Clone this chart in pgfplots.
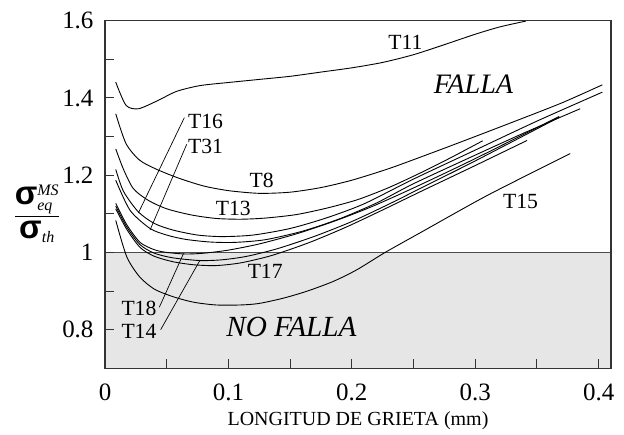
\documentclass[border=0pt]{standalone}
\usepackage{pgfplots}
\pgfplotsset{compat=1.18}
\usepackage{fontspec}
\setmainfont{Liberation Serif}
\newfontfamily\sgf{Liberation Sans}
\definecolor{shadegray}{HTML}{E6E6E6}
\definecolor{axc}{HTML}{333333}
\begin{document}
\begin{tikzpicture}[crv/.style={black, line width=0.9pt, smooth, tension=0.45, mark=none}]
\useasboundingbox (-105pt,-65.7pt) rectangle (519pt,368.3pt);
\begin{axis}[
  at={(0,0)}, anchor=south west,
  scale only axis, width=506pt, height=347.6pt,
  xmin=0, xmax=0.41, ymin=0.7, ymax=1.6,
  xtick={0,0.1,0.2,0.3,0.4},
  minor xtick={0.05,0.15,0.25,0.35},
  ytick={0.8,1,1.2,1.4,1.6},
  minor ytick={0.9,1.1,1.3,1.5},
  xtick pos=bottom, ytick pos=left,
  tick align=inside,
  major tick length=9pt, minor tick length=9pt,
  every tick/.style={axc, line width=1pt},
  axis line style={axc, line width=1.3pt},
  /pgf/number format/assume math mode=true,
  tick label style={font=\fontsize{18.5}{20}\selectfont, scale=1.35, transform shape},
  xticklabel style={yshift=-8pt},
  yticklabel style={xshift=-5pt},
  xlabel={LONGITUD DE GRIETA (mm)},
  xlabel style={font=\fontsize{18.5}{20}\selectfont, scale=1.08, transform shape, yshift=-2pt},
  axis on top=true,
  clip=true,
]
\fill[shadegray] (axis cs:0,0.7) rectangle (axis cs:0.41,1);
\addplot[draw=black!70, line width=1.6pt, mark=none] coordinates {(0,1) (0.41,1)};
% T11
\addplot[crv] coordinates {(0.0087,1.441)(0.017,1.381)(0.027,1.372)(0.042,1.392)(0.058,1.417)(0.077,1.432)(0.1,1.440)(0.125,1.448)(0.15,1.456)(0.175,1.467)(0.2,1.478)(0.225,1.492)(0.25,1.512)(0.275,1.538)(0.3,1.565)(0.32,1.584)(0.341,1.599)};
% T8
\addplot[crv] coordinates {(0.0087,1.359)(0.017,1.282)(0.028,1.239)(0.042,1.215)(0.06,1.192)(0.08,1.172)(0.1,1.16)(0.125,1.153)(0.15,1.156)(0.175,1.168)(0.2,1.187)(0.23,1.217)(0.26,1.252)(0.29,1.288)(0.33,1.337)(0.37,1.387)(0.403,1.434)};
% T13
\addplot[crv] coordinates {(0.0087,1.268)(0.015,1.215)(0.023,1.165)(0.035,1.135)(0.05,1.113)(0.07,1.097)(0.09,1.088)(0.11,1.086)(0.13,1.089)(0.155,1.098)(0.18,1.115)(0.205,1.137)(0.23,1.168)(0.255,1.205)(0.28,1.245)(0.306,1.289)};
% T16
\addplot[crv] coordinates {(0.0087,1.215)(0.015,1.158)(0.027,1.105)(0.04,1.075)(0.055,1.058)(0.075,1.045)(0.095,1.041)(0.12,1.045)(0.15,1.062)(0.18,1.09)(0.21,1.126)(0.25,1.19)(0.3,1.265)(0.35,1.34)(0.403,1.415)};
% T31
\addplot[crv] coordinates {(0.0087,1.187)(0.0203,1.109)(0.0365,1.062)(0.05,1.045)(0.065,1.034)(0.085,1.027)(0.105,1.026)(0.13,1.033)(0.16,1.055)(0.19,1.087)(0.22,1.128)(0.25,1.178)(0.3,1.252)(0.34,1.31)(0.385,1.372)};
% T18
\addplot[crv] coordinates {(0.0087,1.127)(0.0176,1.072)(0.0284,1.026)(0.04,1.007)(0.05,1.0)(0.065,0.996)(0.08,0.998)(0.1,1.006)(0.125,1.022)(0.155,1.048)(0.185,1.08)(0.215,1.117)(0.25,1.167)(0.3,1.243)(0.368,1.352)};
% T14
\addplot[crv] coordinates {(0.0087,1.12)(0.0176,1.066)(0.0284,1.02)(0.04,0.998)(0.055,0.986)(0.077,0.979)(0.095,0.981)(0.115,0.99)(0.14,1.01)(0.17,1.042)(0.2,1.08)(0.23,1.125)(0.26,1.173)(0.3,1.237)(0.368,1.35)};
% T17
\addplot[crv] coordinates {(0.0087,1.113)(0.0176,1.06)(0.0284,1.013)(0.04,0.99)(0.055,0.976)(0.072,0.968)(0.09,0.966)(0.11,0.973)(0.135,0.992)(0.165,1.025)(0.195,1.065)(0.225,1.11)(0.256,1.158)(0.3,1.225)(0.342,1.29)};
% T15
\addplot[crv] coordinates {(0.0087,1.083)(0.0176,0.989)(0.028,0.937)(0.04,0.905)(0.0555,0.885)(0.072,0.871)(0.09,0.864)(0.11,0.864)(0.125,0.868)(0.145,0.882)(0.164,0.9)(0.185,0.925)(0.204,0.955)(0.227,1.0)(0.256,1.052)(0.31,1.148)(0.377,1.256)};
% leader lines
\draw[black, line width=0.7pt] (axis cs:0.027,1.102) -- (axis cs:0.0643,1.349);
\draw[black, line width=0.7pt] (axis cs:0.0365,1.058) -- (axis cs:0.0662,1.280);
\draw[black, line width=0.7pt] (axis cs:0.044,0.858) -- (axis cs:0.0636,0.997);
\draw[black, line width=0.7pt] (axis cs:0.0451,0.800) -- (axis cs:0.077,0.980);
% labels
\begin{scope}[every node/.style={font=\fontsize{18.5}{20}\selectfont, inner sep=0pt, scale=1.17, transform shape}]
\node at (axis cs:0.2434,1.543) {T11};
\node at (axis cs:0.0815,1.340) {T16};
\node at (axis cs:0.0815,1.275) {T31};
\node at (axis cs:0.127,1.187) {T8};
\node at (axis cs:0.104,1.114) {T13};
\node at (axis cs:0.1298,0.950) {T17};
\node at (axis cs:0.0275,0.855) {T18};
\node at (axis cs:0.0275,0.795) {T14};
\node at (axis cs:0.3367,1.131) {T15};
\node[font=\itshape\fontsize{18.5}{20}\selectfont, scale=1.3] at (axis cs:0.2986,1.435) {FALLA};
\node[font=\itshape\fontsize{18.5}{20}\selectfont, scale=1.35] at (axis cs:0.151,0.807) {NO FALLA};
\end{scope}
\end{axis}
\node[inner sep=0pt] at (-68pt,154.3pt) {\fontsize{33}{38}\selectfont$\displaystyle\frac{\mbox{\sgf\bfseries σ}^{\mbox{\rmfamily\fontsize{16}{18}\selectfont\itshape MS}}_{\mbox{\rmfamily\fontsize{16}{18}\selectfont\itshape eq}}}{\mbox{\sgf\bfseries σ}_{\mbox{\rmfamily\fontsize{16}{18}\selectfont\itshape th}}}$};
\end{tikzpicture}
\end{document}
